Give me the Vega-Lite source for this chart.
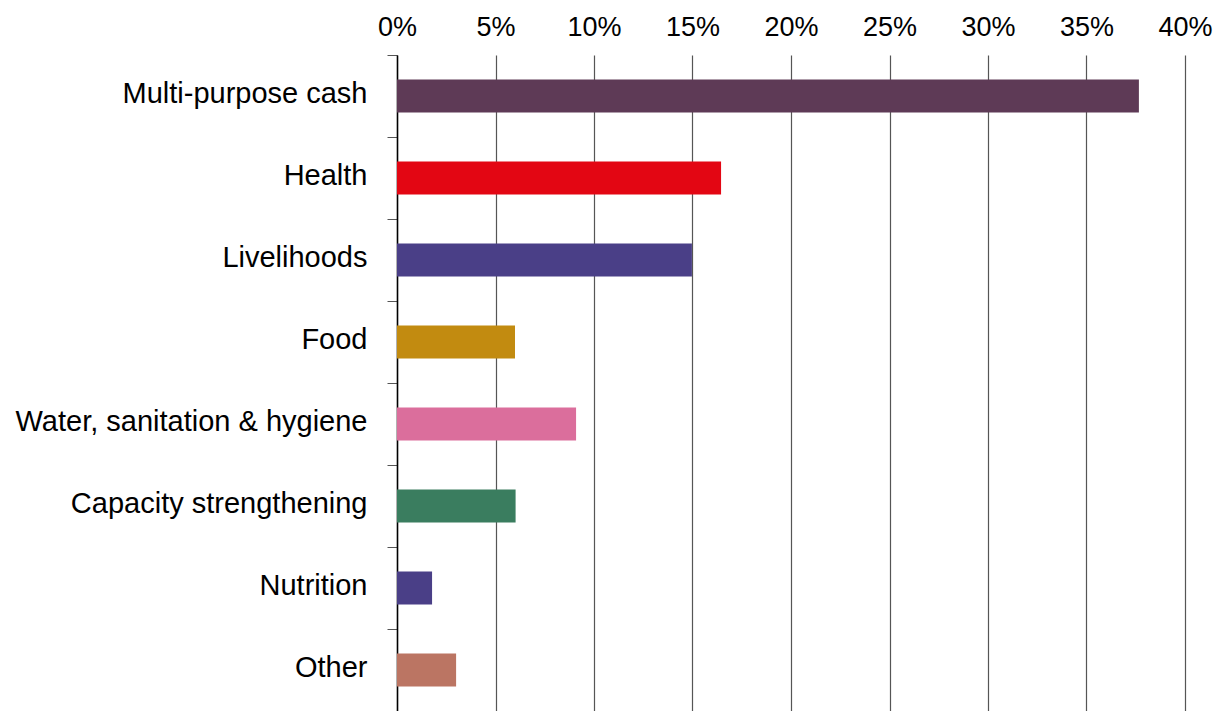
{
  "$schema": "https://vega.github.io/schema/vega-lite/v6.json",
  "width": 788,
  "height": 656,
  "autosize": {"type": "none"},
  "padding": {"left": 397, "top": 55, "right": 37, "bottom": 0},
  "background": "white",
  "config": {"view": {"stroke": null}, "font": "Liberation Sans"},
  "data": {
    "values": [
      {"sector": "Multi-purpose cash", "share": 0.3766, "color": "#5e3a56"},
      {"sector": "Health", "share": 0.1645, "color": "#e30613"},
      {"sector": "Livelihoods", "share": 0.1497, "color": "#4a3f87"},
      {"sector": "Food", "share": 0.0599, "color": "#c28b10"},
      {"sector": "Water, sanitation & hygiene", "share": 0.0909, "color": "#db6e9c"},
      {"sector": "Capacity strengthening", "share": 0.0602, "color": "#3a7d5f"},
      {"sector": "Nutrition", "share": 0.0178, "color": "#4a3f87"},
      {"sector": "Other", "share": 0.0300, "color": "#bb7563"}
    ]
  },
  "mark": {"type": "bar", "height": {"band": 0.4}},
  "encoding": {
    "y": {
      "field": "sector",
      "type": "nominal",
      "sort": null,
      "scale": {"paddingInner": 0, "paddingOuter": 0},
      "axis": {
        "title": null,
        "labelFontSize": 29,
        "labelColor": "#000000",
        "labelPadding": 20,
        "labelOffset": -3,
        "tickBand": "extent",
        "tickSize": 10,
        "tickColor": "#555555",
        "domainColor": "#000000",
        "domainWidth": 1.5,
        "grid": false,
        "labelLimit": 500
      }
    },
    "x": {
      "field": "share",
      "type": "quantitative",
      "scale": {"domain": [0, 0.4]},
      "axis": {
        "orient": "top",
        "title": null,
        "format": ".0%",
        "values": [0, 0.05, 0.1, 0.15, 0.2, 0.25, 0.3, 0.35, 0.4],
        "labelFontSize": 27,
        "labelColor": "#000000",
        "labelPadding": 14,
        "labelFlush": false,
        "ticks": false,
        "domain": false,
        "grid": true,
        "gridColor": "#555555",
        "gridWidth": 1.2,
        "gridOpacity": 1
      }
    },
    "color": {"field": "color", "type": "nominal", "scale": null, "legend": null}
  }
}
